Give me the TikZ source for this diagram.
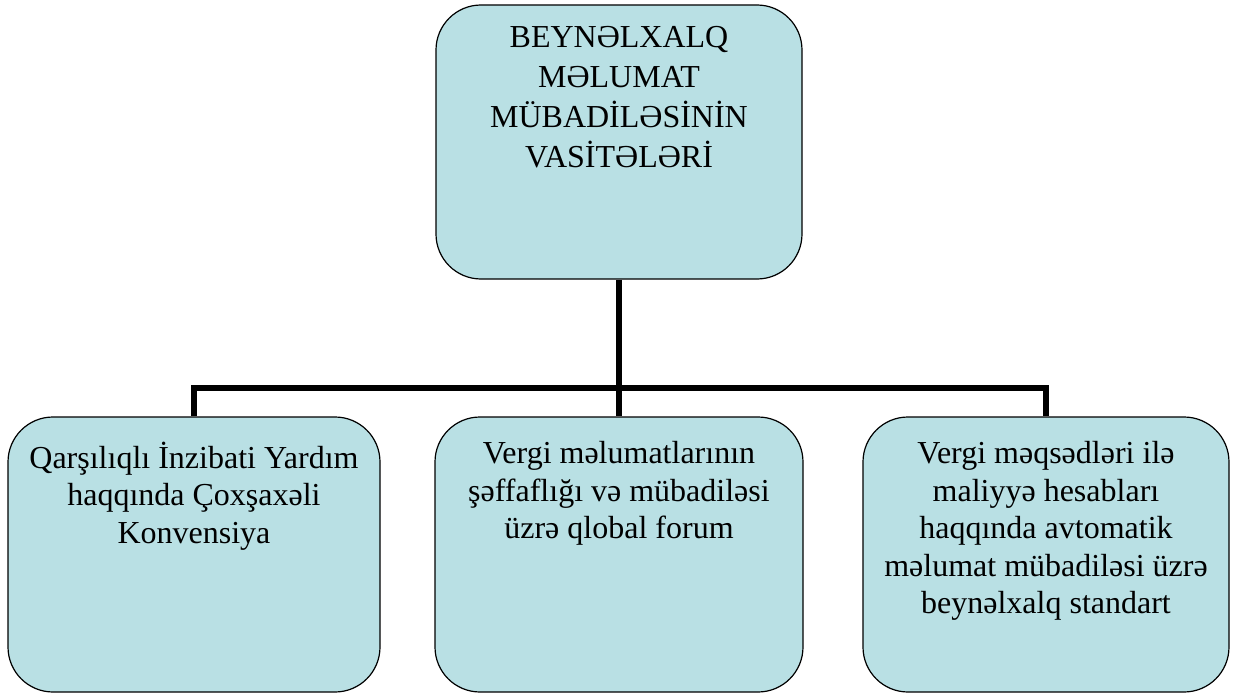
\documentclass[tikz,border=0pt]{standalone}
\usepackage{fontspec}
\setmainfont{Liberation Serif}
\usetikzlibrary{positioning}
\definecolor{boxblue}{RGB}{185,224,228}
\begin{document}
\begin{tikzpicture}[x=1pt,y=-1pt]
        \tikzstyle{box}=[draw=black, line width=1.2pt, fill=boxblue, rounded corners=45pt, inner sep=0pt, minimum height=275pt]
        \tikzstyle{txt}=[inner sep=0pt, align=center, font=\fontsize{32}{37.5}\selectfont, execute at begin node=\strut]
        \tikzstyle{conn}=[line width=6pt]
        \useasboundingbox (0,0) rectangle (1235,693);
        % top box
        \node[box, minimum width=366pt, minimum height=274pt] (vasite) at (619,142) {};
        \node[txt, font=\fontsize{32}{40}\selectfont, below=22pt of vasite.north] (vasitetxt)
            {BEYNƏLXALQ\\MƏLUMAT\\MÜBADİLƏSİNİN\\VASİTƏLƏRİ};
        % bottom boxes
        \node[box, minimum width=372pt] (konv) at (194,554.5) {};
        \node[box, minimum width=368pt] (forum) at (619,554.5) {};
        \node[box, minimum width=366pt] (standart) at (1046,554.5) {};
        \node[txt, below=25pt of konv.north] (konvtxt)
            {Qarşılıqlı İnzibati Yardım\\haqqında Çoxşaxəli\\Konvensiya};
        \node[txt, below=25pt of forum.north] (forumtxt)
            {Vergi məlumatlarının\\şəffaflığı və mübadiləsi\\üzrə qlobal forum};
        \node[txt, below=25pt of standart.north] (standarttxt)
            {Vergi məqsədləri ilə\\maliyyə hesabları\\haqqında avtomatik\\məlumat mübadiləsi üzrə\\beynəlxalq standart};
        % connectors
        \coordinate (bar) at (619,388);
        \draw[conn] (vasite.south) -- (forum.north);
        \draw[conn] (konv.north) |- (bar) -| (standart.north);
    \end{tikzpicture}
\end{document}
